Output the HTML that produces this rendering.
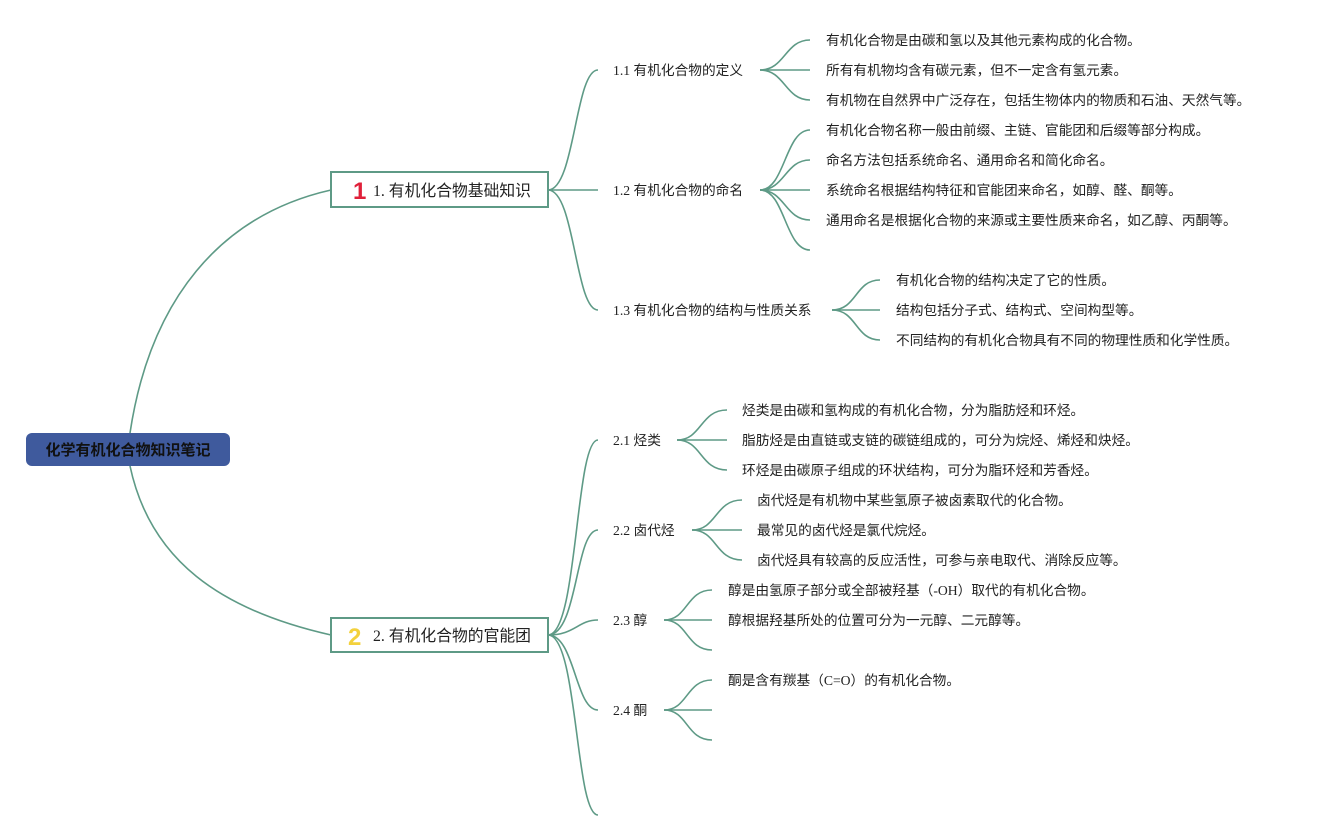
<!DOCTYPE html>
<html><head><meta charset="utf-8"><style>
html,body{margin:0;padding:0;background:#fff;width:1320px;height:840px;overflow:hidden}
text{font-family:"Liberation Serif","Noto Sans CJK SC",sans-serif;fill:#222;font-size:13.7px}
text.num{font-family:"Liberation Sans",sans-serif;font-size:24px;font-weight:bold}
</style></head><body>
<svg width="1320" height="840" xmlns="http://www.w3.org/2000/svg">
<g fill="none" stroke="#5e9a86" stroke-width="1.6">
<path d="M130,433 C150,300 220,215 331,190"/>
<path d="M130,466 C150,560 220,610 331,635"/>
<path d="M548,190 C575,190 575,70 598,70"/>
<path d="M548,190 L598,190"/>
<path d="M548,190 C575,190 575,310 598,310"/>
<path d="M760,70 C785,70 785,40 810,40"/><path d="M760,70 L810,70"/><path d="M760,70 C785,70 785,100 810,100"/>
<path d="M760,190 C785,190 785,130 810,130"/><path d="M760,190 C785,190 785,160 810,160"/><path d="M760,190 L810,190"/><path d="M760,190 C785,190 785,220 810,220"/><path d="M760,190 C785,190 785,250 810,250"/>
<path d="M832,310 C857,310 855,280 880,280"/><path d="M832,310 L880,310"/><path d="M832,310 C857,310 855,340 880,340"/>
<path d="M548,635 C578,635 575,440 598,440"/>
<path d="M548,635 C578,635 575,530 598,530"/>
<path d="M548,635 C575,635 578,620 598,620"/>
<path d="M548,635 C575,635 575,710 598,710"/>
<path d="M548,635 C578,635 575,815 598,815"/>
<path d="M677,440 C702,440 700,410 727,410"/><path d="M677,440 L727,440"/><path d="M677,440 C702,440 700,470 727,470"/>
<path d="M692,530 C717,530 715,500 742,500"/><path d="M692,530 L742,530"/><path d="M692,530 C717,530 715,560 742,560"/>
<path d="M664,620 C688,620 686,590 712,590"/><path d="M664,620 L712,620"/><path d="M664,620 C688,620 686,650 712,650"/>
<path d="M664,710 C688,710 686,680 712,680"/><path d="M664,710 L712,710"/><path d="M664,710 C688,710 686,740 712,740"/>
</g>
<rect x="26" y="433" width="204" height="33" rx="6" fill="#3f5a9d"/>
<text x="128" y="455" text-anchor="middle" style="font-size:15px;font-weight:bold;fill:#111">化学有机化合物知识笔记</text>
<rect x="331" y="172" width="217" height="35" fill="#fff" stroke="#5e9a86" stroke-width="2"/>
<text class="num" x="353" y="199" fill="#e0203a" style="fill:#e0203a">1</text>
<text x="373" y="196" style="font-size:15.8px">1. 有机化合物基础知识</text>
<rect x="331" y="618" width="217" height="34" fill="#fff" stroke="#5e9a86" stroke-width="2"/>
<text class="num" x="348" y="645" style="fill:#f3d13c">2</text>
<text x="373" y="641" style="font-size:15.8px">2. 有机化合物的官能团</text>
<text x="613" y="75">1.1 有机化合物的定义</text>
<text x="613" y="195">1.2 有机化合物的命名</text>
<text x="613" y="315">1.3 有机化合物的结构与性质关系</text>
<text x="613" y="445">2.1 烃类</text>
<text x="613" y="535">2.2 卤代烃</text>
<text x="613" y="625">2.3 醇</text>
<text x="613" y="715">2.4 酮</text>
<text x="826" y="45">有机化合物是由碳和氢以及其他元素构成的化合物。</text>
<text x="826" y="75">所有有机物均含有碳元素，但不一定含有氢元素。</text>
<text x="826" y="105">有机物在自然界中广泛存在，包括生物体内的物质和石油、天然气等。</text>
<text x="826" y="135">有机化合物名称一般由前缀、主链、官能团和后缀等部分构成。</text>
<text x="826" y="165">命名方法包括系统命名、通用命名和简化命名。</text>
<text x="826" y="195">系统命名根据结构特征和官能团来命名，如醇、醛、酮等。</text>
<text x="826" y="225">通用命名是根据化合物的来源或主要性质来命名，如乙醇、丙酮等。</text>
<text x="896" y="285">有机化合物的结构决定了它的性质。</text>
<text x="896" y="315">结构包括分子式、结构式、空间构型等。</text>
<text x="896" y="345">不同结构的有机化合物具有不同的物理性质和化学性质。</text>
<text x="742" y="415">烃类是由碳和氢构成的有机化合物，分为脂肪烃和环烃。</text>
<text x="742" y="445">脂肪烃是由直链或支链的碳链组成的，可分为烷烃、烯烃和炔烃。</text>
<text x="742" y="475">环烃是由碳原子组成的环状结构，可分为脂环烃和芳香烃。</text>
<text x="757" y="505">卤代烃是有机物中某些氢原子被卤素取代的化合物。</text>
<text x="757" y="535">最常见的卤代烃是氯代烷烃。</text>
<text x="757" y="565">卤代烃具有较高的反应活性，可参与亲电取代、消除反应等。</text>
<text x="728" y="595">醇是由氢原子部分或全部被羟基（-OH）取代的有机化合物。</text>
<text x="728" y="625">醇根据羟基所处的位置可分为一元醇、二元醇等。</text>
<text x="728" y="685">酮是含有羰基（C=O）的有机化合物。</text>
</svg>
</body></html>
